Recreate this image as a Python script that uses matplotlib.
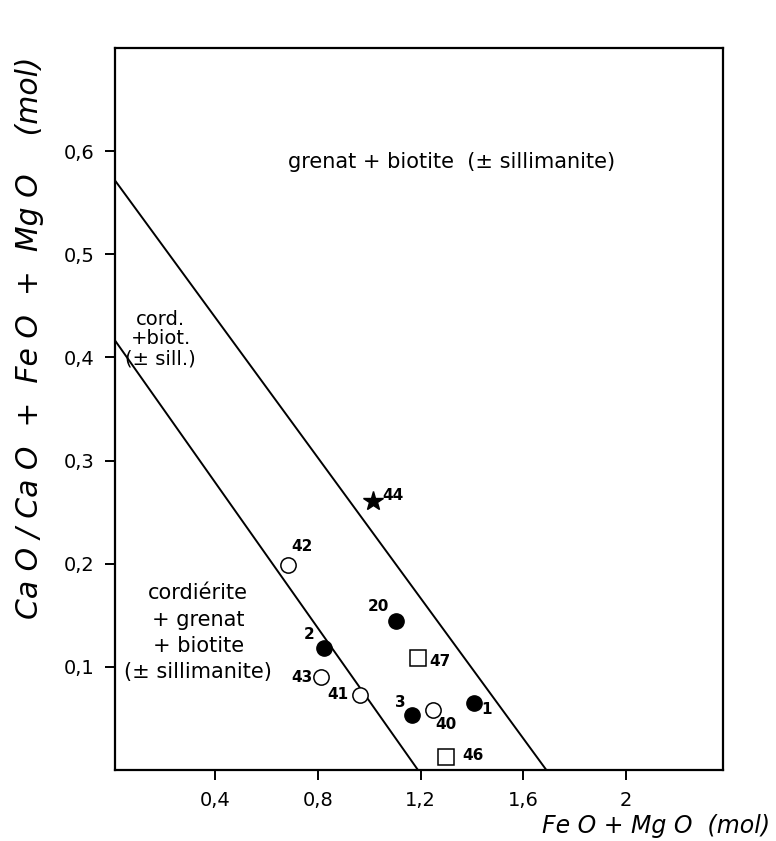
import matplotlib
matplotlib.use("Agg")
import matplotlib.pyplot as plt

# ---- data ----
filled_x = [1.105, 0.825, 1.168, 1.409]
filled_y = [0.144, 0.118, 0.0535, 0.065]
filled_lab = ["20", "2", "3", "1"]

open_x = [0.685, 0.813, 0.965, 1.249]
open_y = [0.199, 0.090, 0.073, 0.058]
open_lab = ["42", "43", "41", "40"]

square_x = [1.19, 1.30]
square_y = [0.109, 0.0127]
square_lab = ["47", "46"]

star_x = [1.015]
star_y = [0.261]
star_lab = ["44"]

# boundary lines (x, y endpoints)
line_low_x = [0.0, 1.19]
line_low_y = [0.42, 0.0]
line_high_x = [0.0, 1.69]
line_high_y = [0.575, 0.0]

xticks = [0.4, 0.8, 1.2, 1.6, 2.0]
xticklabels = ["0,4", "0,8", "1,2", "1,6", "2"]
yticks = [0.1, 0.2, 0.3, 0.4, 0.5, 0.6]
yticklabels = ["0,1", "0,2", "0,3", "0,4", "0,5", "0,6"]

# label offsets (points) -- layout only
offsets = {"20": (-13, 11), "2": (-11, 10), "3": (-9, 9), "1": (9, -5),
           "42": (10, 13), "43": (-14, 0), "41": (-16, 0), "40": (9, -10),
           "47": (16, -3), "46": (19, 1), "44": (14, 4)}

plt.rcParams['font.family'] = ['DejaVu Sans']
fig = plt.figure(figsize=(7.76, 8.41), dpi=100)
ax = fig.add_axes([115/776, 71/841, (723-115)/776, (770-48)/841])
ax.set_xlim(0.01, 2.378)
ax.set_ylim(0, 0.70)

for s in ax.spines.values():
    s.set_linewidth(1.6)
    s.set_color('black')

ax.plot(line_low_x, line_low_y, color='black', lw=1.4, clip_on=True)
ax.plot(line_high_x, line_high_y, color='black', lw=1.4, clip_on=True)

ax.plot(filled_x, filled_y, 'o', ms=11, mfc='black', mec='black', ls='none')
ax.plot(open_x, open_y, 'o', ms=11, mfc='white', mec='black', mew=1.1, ls='none')
ax.plot(square_x, square_y, 's', ms=12, mfc='white', mec='black', mew=1.1, ls='none')
ax.plot(star_x, star_y, '*', ms=15, mfc='black', mec='black', ls='none')

for xs, ys, labs in [(filled_x, filled_y, filled_lab), (open_x, open_y, open_lab),
                     (square_x, square_y, square_lab), (star_x, star_y, star_lab)]:
    for x, y, l in zip(xs, ys, labs):
        ax.annotate(l, (x, y), xytext=offsets[l], textcoords='offset points',
                    ha='center', va='center', fontsize=11, fontweight='bold')

ax.set_xticks(xticks)
ax.set_xticklabels(xticklabels, fontsize=14)
ax.set_yticks(yticks)
ax.set_yticklabels(yticklabels, fontsize=14)
ax.tick_params(direction='out', length=7, width=1.4, pad=8)

# region labels
ax.text(0.553, 0.842, "grenat + biotite  (± sillimanite)", transform=ax.transAxes,
        ha='center', va='center', fontsize=15)
ax.text(0.075, 0.597, "cord.\n+biot.\n(± sill.)", transform=ax.transAxes,
        ha='center', va='center', fontsize=14, linespacing=1.05)
ax.text(0.137, 0.19, "cordiérite\n+ grenat\n+ biotite\n(± sillimanite)", transform=ax.transAxes,
        ha='center', va='center', fontsize=15, linespacing=1.4)

fig.text(30/776, 1 - 338/841, "Ca O / Ca O  +  Fe O  +  Mg O    (mol)", rotation=90,
         ha='center', va='center', fontsize=21.5, style='italic')
fig.text(770/776, 1 - 826/841, "Fe O + Mg O  (mol)", ha='right', va='center',
         fontsize=17, style='italic')

fig.savefig("out.png", dpi=100)
